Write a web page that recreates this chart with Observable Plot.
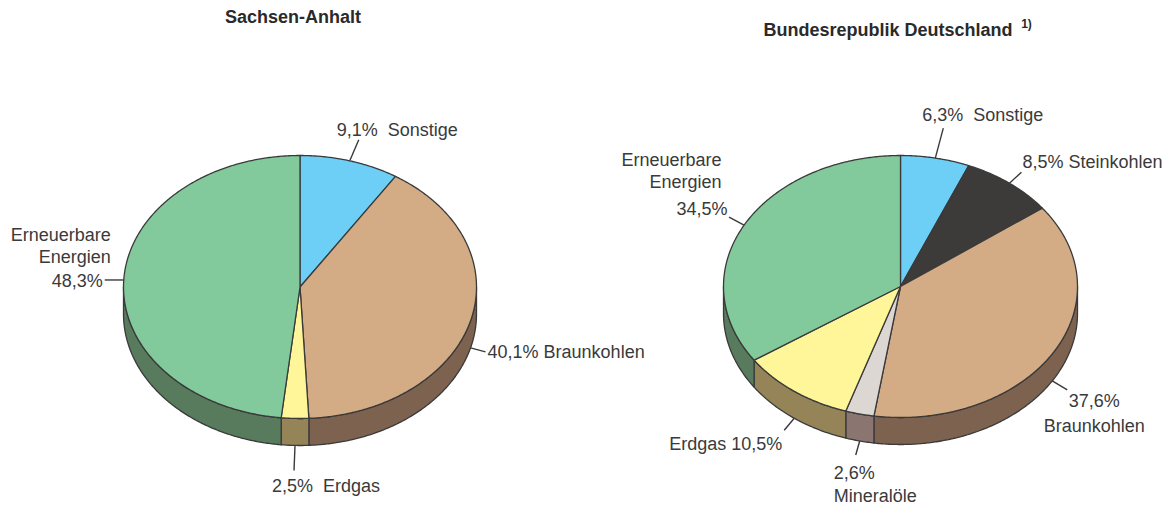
<!DOCTYPE html>
<html>
<head>
<meta charset="utf-8">
<script src="https://cdn.jsdelivr.net/npm/d3@7"></script>
<script src="https://cdn.jsdelivr.net/npm/@observablehq/plot@0.6"></script>
<style>
  html, body { margin: 0; padding: 0; background: #fff; }
  #chart svg { display: block; }
</style>
</head>
<body>
<div id="chart"></div>
<script>
// ---------- DATA ----------
const titles = ["Sachsen-Anhalt", "Bundesrepublik Deutschland"];
const titleNote = "1)";

const saCategories = ["Sonstige", "Braunkohlen", "Erdgas", "Erneuerbare\nEnergien"];
const saValues = [9.1, 40.1, 2.5, 48.3];

const deCategories = ["Sonstige", "Steinkohlen", "Braunkohlen", "Mineralöle", "Erdgas", "Erneuerbare\nEnergien"];
const deValues = [6.3, 8.5, 37.6, 2.6, 10.5, 34.5];

// ---------- STYLE / LAYOUT ----------
const W = 1174, H = 506;
const FONT = "'Liberation Sans', Arial, Helvetica, sans-serif";
const INK = "#3a3a3a";
const topColor = {
  "Sonstige": "#6dcff5", "Steinkohlen": "#3d3b39", "Braunkohlen": "#d3ab85",
  "Mineralöle": "#ddd7d4", "Erdgas": "#fff599", "Erneuerbare\nEnergien": "#82c99c"
};
const sideColor = {
  "Sonstige": "#4a8ea8", "Steinkohlen": "#2a2927", "Braunkohlen": "#7d6250",
  "Mineralöle": "#8a7571", "Erdgas": "#948458", "Erneuerbare\nEnergien": "#587a5d"
};
const pies = [
  {cx: 299.5, cy: 286.5, rx: 176.5, ry: 131.5, depth: 27, titleX: 292.5, titleY: 17},
  {cx: 900, cy: 286, rx: 177, ry: 131, depth: 27, titleX: 887.5, titleY: 30}
];
// label layout: leader offset and text placements relative to leader end
const saLabelLayout = [
  {side: false, lead: [9, -21], parts: [{fmt: "pct  name", dx: -22, dy: -11, anchor: "start"}]},
  {side: true, lead: [15, 4], parts: [{fmt: "pct name", dx: 2, dy: -1, anchor: "start"}]},
  {side: true, lead: [-1, 25], parts: [{fmt: "pct  name", dx: -22, dy: 15, anchor: "start"}]},
  {side: false, lead: [-19, 0], parts: [{fmt: "pct", dx: -2, dy: 0, anchor: "end"}, {fmt: "name", dx: 6, dy: -35, anchor: "end"}]}
];
const deLabelLayout = [
  {side: false, lead: [8, -30], parts: [{fmt: "pct  name", dx: -21, dy: -14, anchor: "start"}]},
  {side: false, lead: [12, -11], parts: [{fmt: "pct name", dx: 1, dy: -11, anchor: "start"}]},
  {side: true, lead: [15, 9], parts: [{fmt: "pct", dx: 27, dy: 10.5, anchor: "middle"}, {fmt: "name", dx: 27, dy: 35.5, anchor: "middle"}]},
  {side: true, lead: [-4, 14], parts: [{fmt: "pct", dx: -22, dy: 17.5, anchor: "start"}, {fmt: "name", dx: -22, dy: 40.5, anchor: "start"}]},
  {side: true, lead: [-10, 12], parts: [{fmt: "name pct", dx: -2, dy: 13, anchor: "end"}]},
  {side: false, lead: [-15, -8], parts: [{fmt: "pct", dx: -1.5, dy: -9, anchor: "end"}, {fmt: "name", dx: -7.5, dy: -47, anchor: "end"}]}
];

// ---------- GEOMETRY ----------
function pt(p, f, drop = 0) {
  const t = f * 2 * Math.PI;
  return {x: p.cx + p.rx * Math.sin(t), y: p.cy - p.ry * Math.cos(t) + drop};
}
function arc(p, f0, f1, drop = 0) {
  const n = Math.max(2, Math.ceil((f1 - f0) * 720));
  const out = [];
  for (let i = 0; i <= n; i++) out.push(pt(p, f0 + (f1 - f0) * i / n, drop));
  return out;
}
const fmtPct = v => v.toFixed(1).replace(".", ",") + "%";

function pieMarks(p, cats, vals, layout) {
  const total = d3.sum(vals);
  const sideMarks = [], topMarks = [], links = [], texts = [];
  let acc = 0;
  cats.forEach((c, i) => {
    const f0 = acc / total, f1 = (acc + vals[i]) / total;
    acc += vals[i];
    // side wall (front half only: 0.25..0.75)
    const s0 = Math.max(f0, 0.25), s1 = Math.min(f1, 0.75);
    if (s1 > s0) {
      const poly = arc(p, s0, s1).concat(arc(p, s0, s1, p.depth).reverse());
      sideMarks.push(Plot.line(poly, {x: "x", y: "y", curve: "linear-closed", fill: sideColor[c],
        stroke: INK, strokeWidth: 1.3, strokeLinejoin: "round"}));
    }
    const top = [{x: p.cx, y: p.cy}].concat(arc(p, f0, f1));
    topMarks.push(Plot.line(top, {x: "x", y: "y", curve: "linear-closed", fill: topColor[c],
      stroke: INK, strokeWidth: 1.3, strokeLinejoin: "round"}));
    // label
    const L = layout[i];
    const st = pt(p, (f0 + f1) / 2, L.side ? p.depth : 0);
    const en = {x: st.x + L.lead[0], y: st.y + L.lead[1]};
    links.push({x1: st.x, y1: st.y, x2: en.x, y2: en.y});
    L.parts.forEach(part => {
      const txt = part.fmt.replace("pct", fmtPct(vals[i])).replace("name", c);
      texts.push({x: en.x + part.dx, y: en.y + part.dy, text: txt, anchor: part.anchor});
    });
  });
  return [
    ...sideMarks, ...topMarks,
    Plot.link(links, {x1: "x1", y1: "y1", x2: "x2", y2: "y2", stroke: INK, strokeWidth: 1.4}),
    ...["start", "middle", "end"].map(a => Plot.text(texts.filter(t => t.anchor === a), {
      x: "x", y: "y", text: "text", textAnchor: a, fontSize: 18, lineHeight: 1.2,
      fill: INK, fontFamily: FONT
    }))
  ];
}

const titleData = titles.map((t, i) => ({x: pies[i].titleX, y: pies[i].titleY, text: t}));

const chart = Plot.plot({
  width: W, height: H,
  marginTop: 0, marginRight: 0, marginBottom: 0, marginLeft: 0,
  x: {type: "linear", domain: [0, W], range: [0, W], axis: null},
  y: {type: "linear", domain: [0, H], range: [0, H], axis: null},
  style: {fontFamily: FONT, background: "#fff"},
  marks: [
    ...pieMarks(pies[0], saCategories, saValues, saLabelLayout),
    ...pieMarks(pies[1], deCategories, deValues, deLabelLayout),
    Plot.text(titleData, {x: "x", y: "y", text: "text", fontSize: 18, fontWeight: "bold", fill: "#2a2a2a", fontFamily: FONT}),
    Plot.text([titleNote], {x: () => 1026, y: () => 24, text: d => d, fontSize: 12, fontWeight: "bold", fill: "#2a2a2a", fontFamily: FONT})
  ]
});
document.getElementById("chart").appendChild(chart);
</script>
</body>
</html>
